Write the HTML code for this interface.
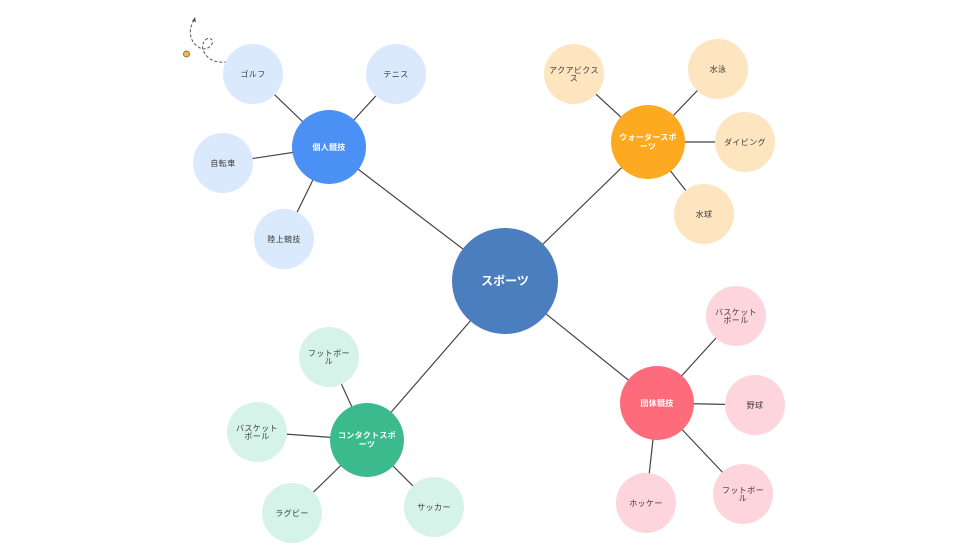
<!DOCTYPE html>
<html><head><meta charset="utf-8"><style>
html,body{margin:0;padding:0;background:#fff;}
svg{display:block;}
text{font-family:"Liberation Sans","Noto Sans CJK JP",sans-serif;text-anchor:middle;}
.l{font-size:8px;fill:#3a3a3a;letter-spacing:0.4px;}
.h{font-size:8px;fill:#fff;font-weight:bold;letter-spacing:0.3px;}
</style></head><body>
<svg width="970" height="560" viewBox="0 0 970 560" xmlns="http://www.w3.org/2000/svg">
<g stroke="#444" stroke-width="1.2">
<line x1="505" y1="281" x2="329" y2="147"/>
<line x1="505" y1="281" x2="648" y2="142"/>
<line x1="505" y1="281" x2="657" y2="403"/>
<line x1="505" y1="281" x2="367" y2="440"/>
<line x1="329" y1="147" x2="253" y2="74"/>
<line x1="329" y1="147" x2="396" y2="74"/>
<line x1="329" y1="147" x2="223" y2="163"/>
<line x1="329" y1="147" x2="284" y2="239"/>
<line x1="648" y1="142" x2="574" y2="74"/>
<line x1="648" y1="142" x2="718" y2="69"/>
<line x1="648" y1="142" x2="745" y2="142"/>
<line x1="648" y1="142" x2="704" y2="214"/>
<line x1="657" y1="403" x2="736" y2="316"/>
<line x1="657" y1="403" x2="755" y2="405"/>
<line x1="657" y1="403" x2="743" y2="494"/>
<line x1="657" y1="403" x2="646" y2="503"/>
<line x1="367" y1="440" x2="329" y2="357"/>
<line x1="367" y1="440" x2="257" y2="432"/>
<line x1="367" y1="440" x2="292" y2="513"/>
<line x1="367" y1="440" x2="434" y2="507"/>
</g>
<path d="M194 20 C188 30 189 42 200 48 C208 52 216 42 211 39 C205 36 200 46 204 52 C208 60 216 63 226 62" fill="none" stroke="#555" stroke-width="1" stroke-dasharray="3,2"/>
<path d="M192 21 L195 17 L196 22 Z" fill="#555"/>
<circle cx="186.5" cy="54" r="3" fill="#f6b756" stroke="#7a5a20" stroke-width="0.8"/>
<g fill="#dbe9fd">
<circle cx="253" cy="74" r="30"/><circle cx="396" cy="74" r="30"/><circle cx="223" cy="163" r="30"/><circle cx="284" cy="239" r="30"/>
</g>
<g fill="#fde5c0">
<circle cx="574" cy="74" r="30"/><circle cx="718" cy="69" r="30"/><circle cx="745" cy="142" r="30"/><circle cx="704" cy="214" r="30"/>
</g>
<g fill="#fed5dc">
<circle cx="736" cy="316" r="30"/><circle cx="755" cy="405" r="30"/><circle cx="743" cy="494" r="30"/><circle cx="646" cy="503" r="30"/>
</g>
<g fill="#d6f3ea">
<circle cx="329" cy="357" r="30"/><circle cx="257" cy="432" r="30"/><circle cx="292" cy="513" r="30"/><circle cx="434" cy="507" r="30"/>
</g>
<circle cx="505" cy="281" r="53" fill="#4a7ebf"/>
<circle cx="329" cy="147" r="37" fill="#4a90f5"/>
<circle cx="648" cy="142" r="37" fill="#fdaa20"/>
<circle cx="657" cy="403" r="37" fill="#fe6b7b"/>
<circle cx="367" cy="440" r="37" fill="#3bbb8d"/>
<text x="505" y="285" style="font-size:12px;font-weight:bold;fill:#fff">スポーツ</text>
<text class="h" x="329" y="150">個人競技</text>
<text class="h" x="648" y="140">ウォータースポ</text><text class="h" x="648" y="149">ーツ</text>
<text class="h" x="657" y="406">団体競技</text>
<text class="h" x="367" y="438">コンタクトスポ</text><text class="h" x="367" y="447">ーツ</text>
<text class="l" x="253" y="77">ゴルフ</text>
<text class="l" x="396" y="77">テニス</text>
<text class="l" x="223" y="166">自転車</text>
<text class="l" x="284" y="242">陸上競技</text>
<text class="l" x="574" y="73">アクアビクス</text><text class="l" x="574" y="81">ス</text>
<text class="l" x="718" y="72">水泳</text>
<text class="l" x="745" y="145">ダイビング</text>
<text class="l" x="704" y="217">水球</text>
<text class="l" x="736" y="315">バスケット</text><text class="l" x="736" y="323">ボール</text>
<text class="l" x="755" y="408">野球</text>
<text class="l" x="743" y="493">フットボー</text><text class="l" x="743" y="501">ル</text>
<text class="l" x="646" y="506">ホッケー</text>
<text class="l" x="329" y="356">フットボー</text><text class="l" x="329" y="364">ル</text>
<text class="l" x="257" y="431">バスケット</text><text class="l" x="257" y="439">ボール</text>
<text class="l" x="292" y="516">ラグビー</text>
<text class="l" x="434" y="510">サッカー</text>
</svg>
</body></html>
